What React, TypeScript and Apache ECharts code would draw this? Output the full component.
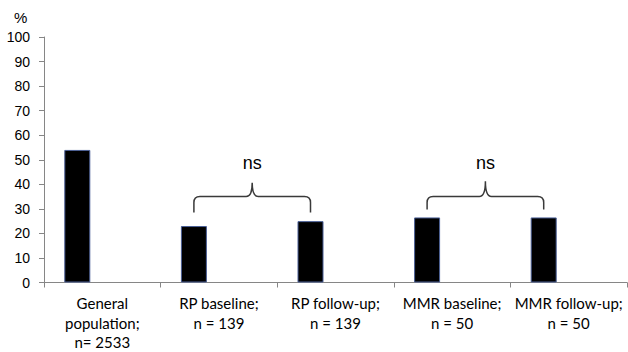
import React, { useEffect, useRef } from "react";
import * as echarts from "echarts";

const categories = [
  "General\npopulation;\nn= 2533",
  "RP baseline;\nn = 139",
  "RP follow-up;\nn = 139",
  "MMR baseline;\nn = 50",
  "MMR follow-up;\nn = 50",
];
const values = [54, 23, 25, 26.5, 26.5];
const yTicks = { min: 0, max: 100, interval: 10 };
// brackets: from category, to category, end level, bar level, peak level, label position, label
const bracketFrom = [1, 3];
const bracketTo = [2, 4];
const bracketEnd = [28.5, 29.7];
const bracketLevel = [35, 35];
const bracketPeak = [40.6, 41.2];
const bracketLabelAt = [48.8, 48.8];
const bracketLabels = ["ns", "ns"];

const BAR_W = 26;
const GAP = 24;
const OFFSET = -(BAR_W + GAP) / 2;

export default function App() {
  const ref = useRef<HTMLDivElement>(null);
  useEffect(() => {
    if (!ref.current) return;
    const chart = echarts.init(ref.current, undefined, { renderer: "svg" });
    const bracketData = bracketFrom.map((f, i) => [
      f,
      bracketTo[i],
      bracketEnd[i],
      bracketLevel[i],
      bracketPeak[i],
      bracketLabelAt[i],
    ]);
    chart.setOption({
      animation: false,
      title: {
        text: "%",
        left: 9,
        top: 5,
        textStyle: { fontFamily: "Liberation Sans", fontSize: 15, fontWeight: "normal", color: "#000" },
      },
      grid: { left: 44, right: 1, top: 37, bottom: 69 },
      xAxis: {
        type: "category",
        data: categories,
        axisLine: { lineStyle: { color: "#868686", width: 1 } },
        axisTick: { show: true, length: 5, lineStyle: { color: "#868686" } },
        axisLabel: {
          interval: 0,
          margin: 11,
          fontFamily: "Lato",
          fontSize: 15,
          lineHeight: 19.5,
          color: "#000",
        },
      },
      yAxis: {
        type: "value",
        min: yTicks.min,
        max: yTicks.max,
        interval: yTicks.interval,
        splitLine: { show: false },
        axisLine: { show: true, lineStyle: { color: "#868686", width: 1 } },
        axisTick: { show: true, length: 5, lineStyle: { color: "#868686" } },
        axisLabel: { margin: 14, fontFamily: "Liberation Sans", fontSize: 14, color: "#000" },
      },
      series: [
        {
          type: "bar",
          data: values,
          barWidth: BAR_W,
          barGap: (GAP / BAR_W) * 100 + "%",
          itemStyle: { color: "#000", borderColor: "#4a5f96", borderWidth: 1 },
        },
        {
          type: "bar",
          data: values.map(() => "-"),
          barWidth: BAR_W,
        },
        {
          type: "custom",
          data: bracketData,
          encode: { x: 0, y: 2 },
          clip: false,
          z: 10,
          renderItem: (params: any, api: any) => {
            const i = params.dataIndex;
            const from = api.value(0);
            const to = api.value(1);
            const pL = api.coord([from, api.value(2)]);
            const pR = api.coord([to, api.value(2)]);
            const L = pL[0] + OFFSET;
            const R = pR[0] + OFFSET;
            const yEnd = pL[1];
            const yH = api.coord([from, api.value(3)])[1];
            const yP = api.coord([from, api.value(4)])[1];
            const yT = api.coord([from, api.value(5)])[1];
            const M = (L + R) / 2;
            const r = 6;
            const d =
              `M ${L} ${yEnd} L ${L} ${yH + r} Q ${L} ${yH} ${L + r} ${yH} ` +
              `L ${M - r} ${yH} Q ${M} ${yH} ${M} ${yP} Q ${M} ${yH} ${M + r} ${yH} ` +
              `L ${R - r} ${yH} Q ${R} ${yH} ${R} ${yH + r} L ${R} ${yEnd}`;
            return {
              type: "group",
              children: [
                {
                  type: "path",
                  shape: { pathData: d },
                  style: { stroke: "#3a3a3a", lineWidth: 1.5, fill: "none" },
                },
                {
                  type: "text",
                  style: {
                    text: bracketLabels[i],
                    x: M,
                    y: yT,
                    align: "center",
                    verticalAlign: "middle",
                    fontFamily: "Liberation Sans",
                    fontSize: 18,
                    fill: "#000",
                  },
                },
              ],
            };
          },
        },
      ],
    });
    return () => chart.dispose();
  }, []);
  return <div ref={ref} style={{ width: 628, height: 352, position: "absolute", left: 0, top: 0 }} />;
}
